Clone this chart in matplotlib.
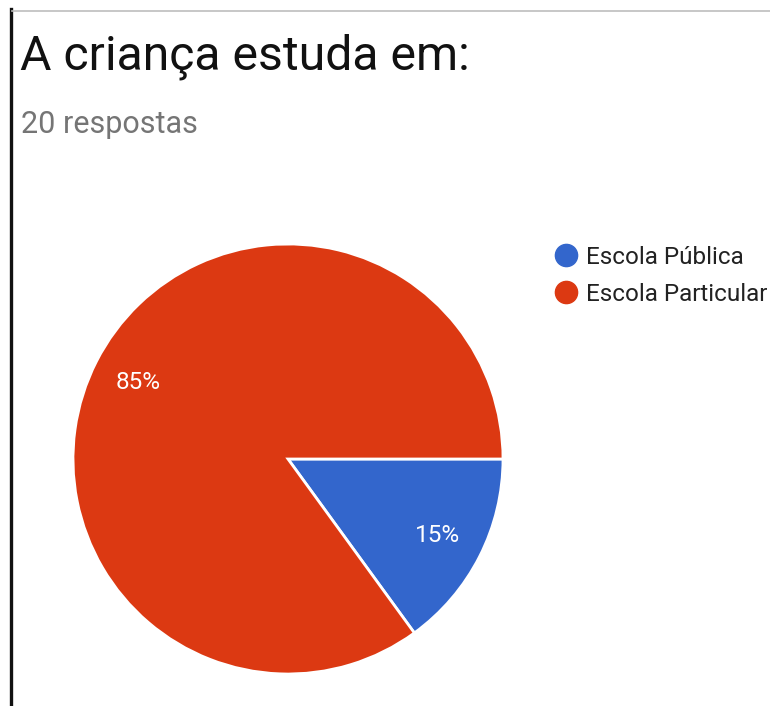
import matplotlib
matplotlib.use("Agg")
import matplotlib.pyplot as plt
from matplotlib.lines import Line2D

plt.rcParams['font.family'] = ['Roboto', 'DejaVu Sans']

title = "A criança estuda em:"
subtitle = "20 respostas"
categories = ["Escola Pública", "Escola Particular"]
values = [15, 85]
colors = ["#3366cc", "#dc3912"]

W, H = 770, 706
fig = plt.figure(figsize=(W / 100, H / 100), dpi=100)

def fx(px):
    return px / W

def fy(py):
    return 1 - py / H

# frame lines
fig.add_artist(Line2D([fx(11), fx(11)], [0, fy(9)], color="#111111", linewidth=2.4))
fig.add_artist(Line2D([fx(12), 1], [fy(11), fy(11)], color="#bdbdbd", linewidth=1.2))

fig.text(fx(20), fy(69), title, fontsize=34.7, color="#111111", va="baseline", ha="left")
fig.text(fx(21), fy(133), subtitle, fontsize=22, color="#757575", va="baseline", ha="left")

cx, cy, r = 288, 459, 215
ax = fig.add_axes([fx(cx - r), fy(cy + r), (2 * r) / W, (2 * r) / H])
wedges, texts = ax.pie(
    values,
    colors=colors,
    startangle=0,
    counterclock=False,
    labels=[f"{v}%" for v in values],
    labeldistance=0.78,
    wedgeprops=dict(edgecolor="white", linewidth=2),
    textprops=dict(color="white", fontsize=17.5),
)
for t in texts:
    t.set_ha("center")
    t.set_va("center")
ax.set_xlim(-1, 1)
ax.set_ylim(-1, 1)

handles = [Line2D([0], [0], marker="o", linestyle="none", markersize=16,
                  markerfacecolor=c, markeredgecolor=c) for c in colors]
leg = fig.legend(handles, categories, loc="upper left",
                 bbox_to_anchor=(fx(551), fy(246)), frameon=False,
                 fontsize=17.5, handletextpad=0.22, labelspacing=0.56,
                 handlelength=1.2, borderpad=0, borderaxespad=0)
for t in leg.get_texts():
    t.set_color("#222222")

fig.savefig("out.png", dpi=100)
